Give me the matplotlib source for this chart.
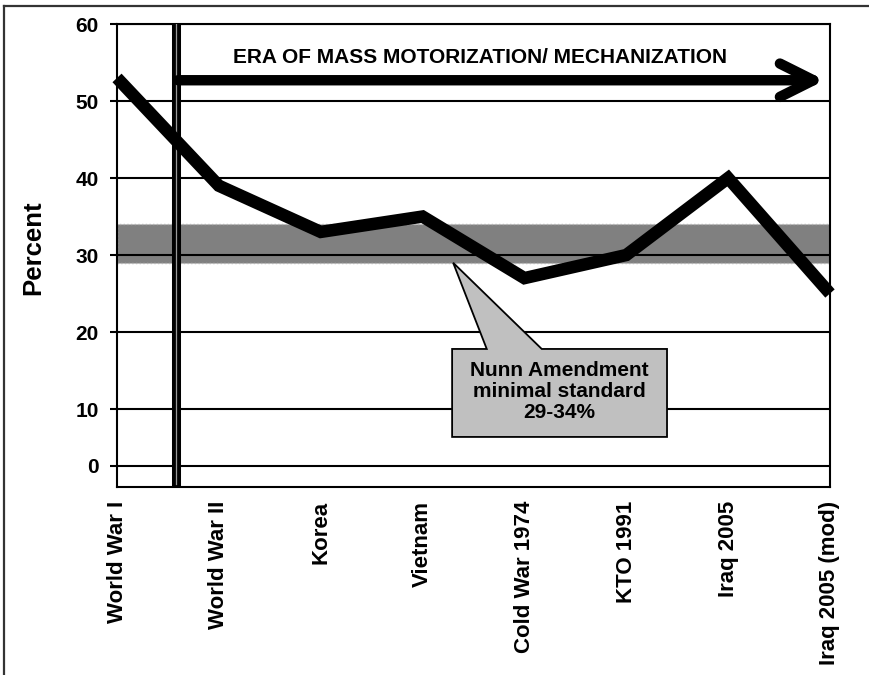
import numpy as np
import matplotlib
matplotlib.use("Agg")
import matplotlib.pyplot as plt
from matplotlib.lines import Line2D
from matplotlib.patches import Polygon

plt.rcParams['font.family'] = ['Liberation Sans', 'DejaVu Sans']
plt.rcParams['font.weight'] = 'bold'

# Share of force in combat arms, by conflict
conflicts = ["World War I", "World War II", "Korea", "Vietnam",
             "Cold War 1974", "KTO 1991", "Iraq 2005", "Iraq 2005 (mod)"]
percent = [53, 39, 33, 35, 27, 30, 40, 25]

# Nunn Amendment band
nunn_low, nunn_high = 29, 34
yticks = [0, 10, 20, 30, 40, 50, 60]


# y axis is linear above 10 and squeezed below it
def fwd(y):
    y = np.asarray(y, dtype=float)
    return np.where(y >= 10, y, 10 - (10 - y) * 0.74)


def inv(v):
    v = np.asarray(v, dtype=float)
    return np.where(v >= 10, v, 10 - (10 - v) / 0.74)


fig = plt.figure(figsize=(8.7, 6.75), dpi=100)
ax = fig.add_axes([0.1345, 0.2785, 0.8195, 0.6859])
ax.set_yscale('function', functions=(fwd, inv))

x = np.arange(len(conflicts))

# shaded standard band, gridlines sit on top of it
ax.axhspan(nunn_low, nunn_high, facecolor='#808080', edgecolor='#b4b4b4',
           linestyle=':', lw=1, zorder=1)
ax.set_axisbelow(False)
ax.yaxis.grid(True, color='black', lw=1.5)
ax.set_yticks(yticks)

# start of mass motorization
ax.axvline(0.575, ymin=0.006, color='black', lw=6.5, zorder=3)
ax.axvline(0.575, ymin=0.006, color='#9a9a9a', lw=0.9, zorder=3)

ax.plot(x, percent, color='black', lw=9, solid_joinstyle='miter',
        solid_capstyle='butt', zorder=6, clip_on=False)

ax.annotate('', xy=(6.95, 52.7), xytext=(0.6, 52.7),
            arrowprops=dict(arrowstyle='->,head_length=1.2,head_width=0.6',
                            lw=7.5, color='black', mutation_scale=20,
                            shrinkA=0, shrinkB=0, capstyle='round'),
            zorder=5)
ax.text(3.56, 55.6, "ERA OF MASS MOTORIZATION/ MECHANIZATION",
        ha='center', va='center', fontsize=15, fontweight='bold', zorder=5)

# callout box with pointer to the band
bx0, bx1, by0, by1 = 3.29, 5.40, 5.1, 17.8
callout = [(bx0, by1), (3.63, by1), (3.3, nunn_low), (4.17, by1),
           (bx1, by1), (bx1, by0), (bx0, by0)]
ax.add_patch(Polygon(callout, closed=True, facecolor='#c0c0c0',
                     edgecolor='black', lw=1.3, zorder=5))
ax.text((bx0 + bx1) / 2, 12.3, "Nunn Amendment\nminimal standard\n29-34%",
        ha='center', va='center', fontsize=15, fontweight='bold',
        linespacing=1.15, zorder=6)

ax.set_xlim(0, 7)
ax.set_ylim(float(inv(-0.13)), 60)
ax.set_xticks(x)
ax.set_xticklabels(conflicts, rotation=90, fontsize=16, fontweight='bold')
ax.tick_params(axis='x', length=0, pad=10)
ax.tick_params(axis='y', length=5, width=1.5, pad=8, labelsize=15)
for lbl in ax.get_yticklabels():
    lbl.set_fontweight('bold')
ax.minorticks_off()

ax.set_ylabel("Percent", fontsize=18.5, fontweight='bold')
ax.yaxis.set_label_coords(-0.101, 0.518)

for s in ax.spines.values():
    s.set_linewidth(1.5)
    s.set_color('black')

# outer frame of the figure (top and left edges)
fig.add_artist(Line2D([0.005, 1.0], [0.991, 0.991], color='#333333', lw=1.6))
fig.add_artist(Line2D([0.005, 0.005], [0.0, 0.991], color='#333333', lw=1.6))

fig.savefig("out.png", dpi=100)
